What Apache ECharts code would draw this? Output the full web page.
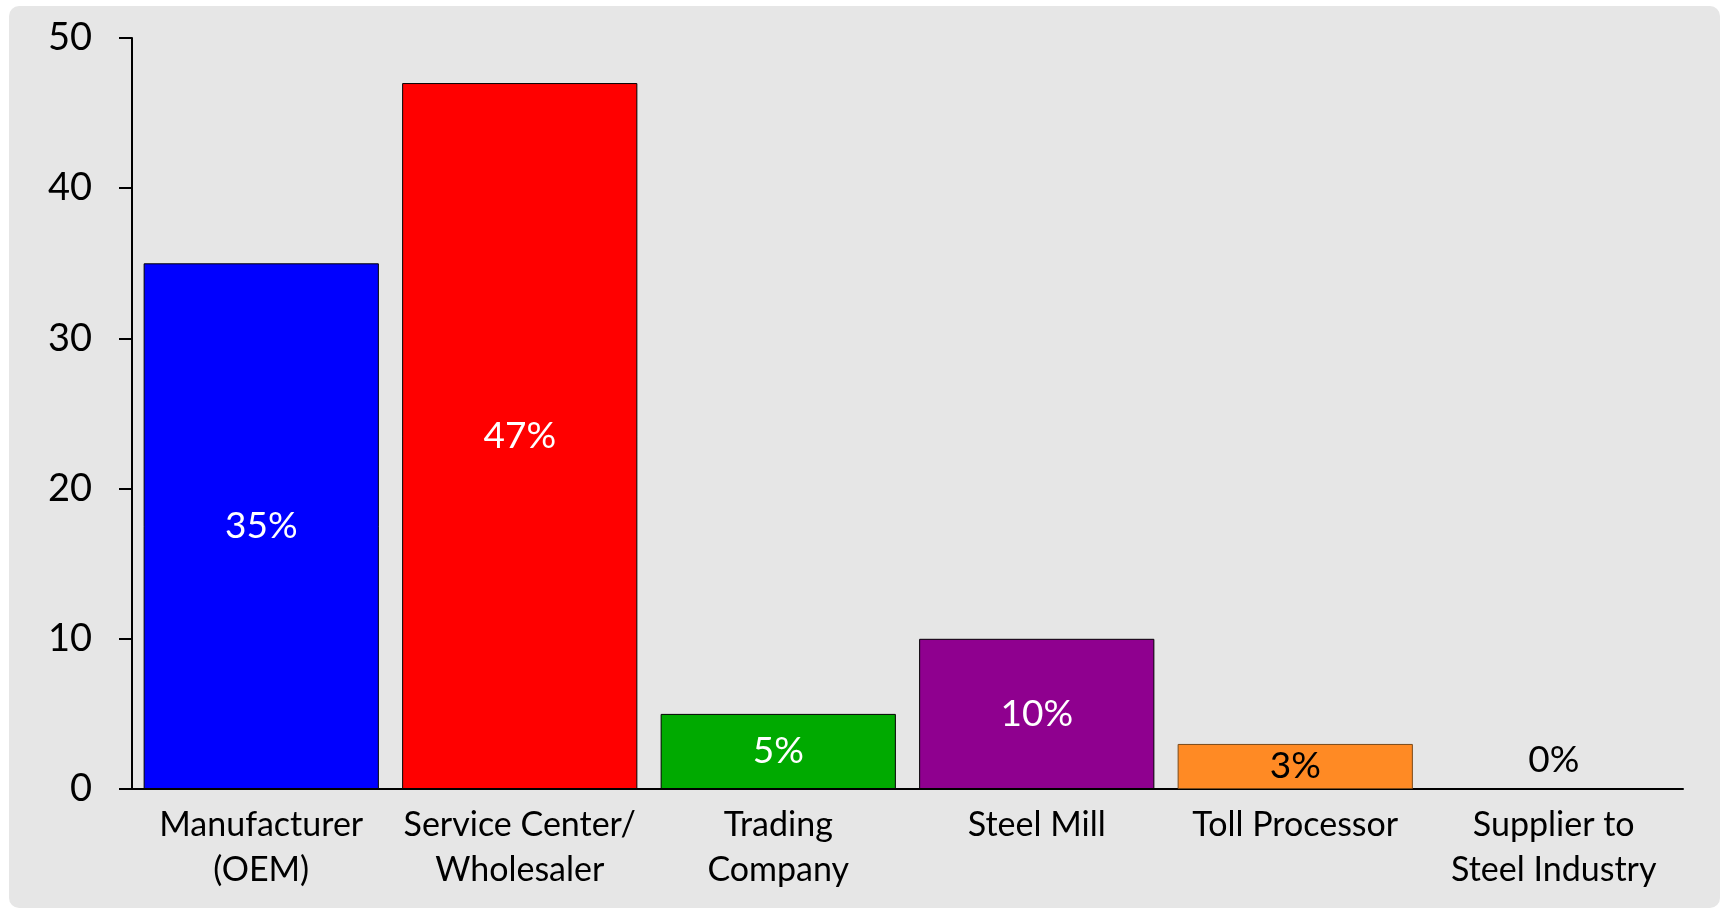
<!DOCTYPE html>
<html>
<head>
<meta charset="utf-8">
<script src="https://cdn.jsdelivr.net/npm/echarts@6/dist/echarts.min.js"></script>
<style>
  html, body { margin: 0; padding: 0; background: #fff; }
  #chart {
    position: absolute;
    left: 9px;
    top: 6px;
    width: 1711px;
    height: 902px;
    background: #e6e6e6;
    border-radius: 10px;
  }
</style>
</head>
<body>
<div id="chart"></div>
<script>
var categories = ["Manufacturer\n(OEM)", "Service Center/\nWholesaler", "Trading\nCompany", "Steel Mill", "Toll Processor", "Supplier to\nSteel Industry"];
var shares = [35, 47, 5, 10, 3, 0];
var yTicks = [0, 10, 20, 30, 40, 50];

// bar fill and label colours, one per category
var barColors = ["#0000ff", "#ff0000", "#00aa00", "#8f008f", "#ff8a24", "#e6e6e6"];
var labelColors = ["#fff", "#fff", "#fff", "#fff", "#000", "#000"];

var myChart = echarts.init(document.getElementById("chart"));

var seriesData = shares.map(function (v, i) {
  return {
    value: v,
    itemStyle: {
      color: barColors[i],
      borderColor: i === 4 ? "#7a4a1a" : "#000",
      borderWidth: v === 0 ? 0 : 1
    },
    label: {
      color: labelColors[i],
      position: v === 0 ? "top" : "inside",
      distance: 10
    }
  };
});

var option = {
  animation: false,
  grid: {
    left: 123,
    right: 37,
    top: 32,
    bottom: 119
  },
  xAxis: {
    type: "category",
    data: categories,
    axisLine: { lineStyle: { color: "#000", width: 2 } },
    axisTick: { show: false },
    axisLabel: {
      color: "#000",
      fontFamily: "Lato",
      fontSize: 34,
      lineHeight: 45,
      margin: 14,
      interval: 0
    }
  },
  yAxis: {
    type: "value",
    min: yTicks[0],
    max: yTicks[yTicks.length - 1],
    interval: 10,
    splitLine: { show: false },
    axisLine: { show: true, lineStyle: { color: "#000", width: 2 } },
    axisTick: { show: true, length: 13, lineStyle: { color: "#000", width: 2 } },
    axisLabel: {
      color: "#000",
      fontFamily: "Lato",
      fontSize: 38,
      margin: 40
    }
  },
  series: [
    {
      type: "bar",
      data: seriesData,
      barCategoryGap: "9%",
      label: {
        show: true,
        fontFamily: "Lato",
        fontSize: 37,
        formatter: "{c}%"
      }
    }
  ]
};

myChart.setOption(option);
window.addEventListener("resize", function () {
  myChart.resize();
});
</script>
</body>
</html>
